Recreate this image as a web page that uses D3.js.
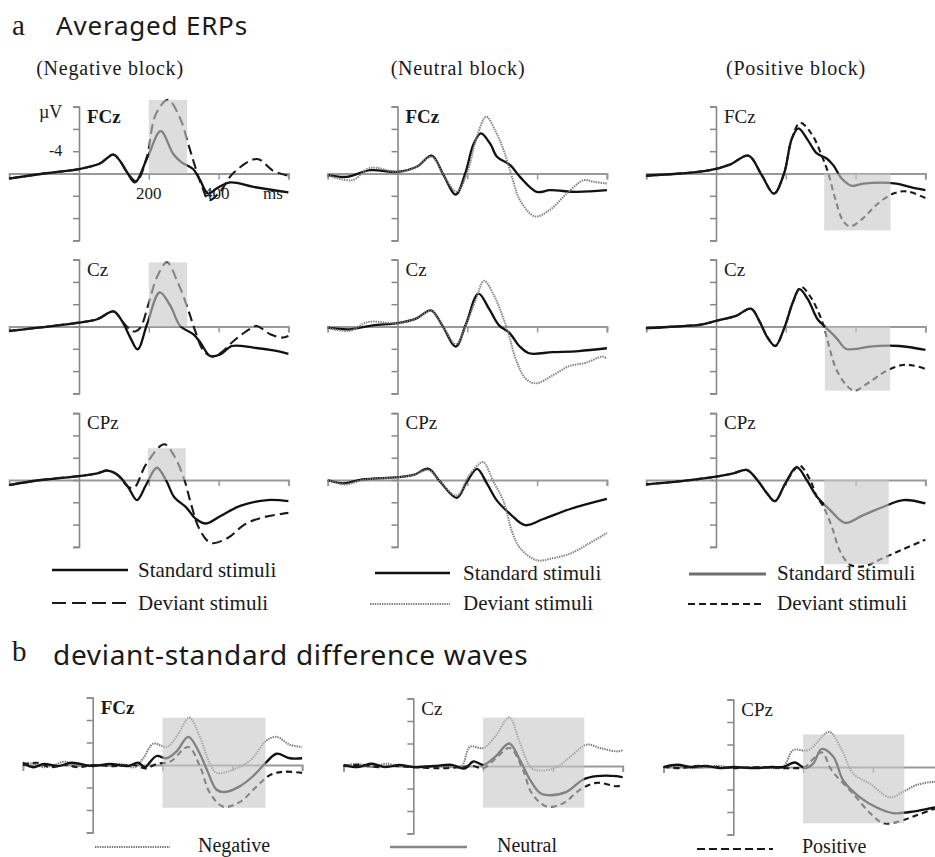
<!DOCTYPE html>
<html lang="en">
<head>
<meta charset="UTF-8">
<title>Averaged ERPs</title>
<script src="https://cdnjs.cloudflare.com/ajax/libs/d3/7.8.5/d3.min.js"></script>
<style>
    body{ margin:0; background:#fff; }
    svg text{ font-family:"Liberation Serif","Times New Roman",serif; fill:#1a1a1a; }
    .head{ font-family:"Noto Sans",sans-serif; }
</style>
</head>
<body>
<div id="grafico"></div>
<script>
// time in ms, amplitude in µV (negative plotted upward)
var blocks = ["(Negative block)", "(Neutral block)", "(Positive block)"];
var channels = ["FCz", "Cz", "CPz"];
var diffNames = ["Negative", "Neutral", "Positive"];

// ---- a: averaged ERPs ----
var negFCzStd = [[-200,0.9],[-100,0],[0,-0.8],[60,-1.8],[98,-3.4],[117,-2.3],[140,0],[160,1.6],[197,-3.0],[234,-7.6],[270,-3.5],[294,-2.0],[327,-0.8],[347,1.2],[370,3.6],[394,2.7],[433,1.6],[500,2.4],[600,3.4]];
var negFCzDev = [[-200,0.9],[-100,0],[0,-0.8],[60,-1.8],[98,-3.4],[117,-2.3],[140,0],[165,1.4],[194,-2.9],[220,-10.6],[255,-13.2],[289,-10],[313,-5.3],[332,-1.4],[351,2.1],[373,4.8],[404,3.3],[441,0],[510,-2.6],[556,-0.5],[600,0.4]];
var neuFCzStd = [[-200,0.3],[-145,0.6],[-78,-0.6],[0,-0.3],[55,-1.2],[98,-3.2],[132,0.3],[167,3.8],[194,0],[218,-5.3],[239,-7.2],[266,-5.3],[285,-3.0],[323,-1.5],[351,0.6],[399,3.3],[437,3.0],[514,3.3],[600,3.0]];
var neuFCzDev = [[-200,0.3],[-130,1.2],[-78,-1.0],[0,-0.3],[55,-1.2],[98,-3.0],[132,0.3],[170,3.3],[199,0],[227,-6.5],[254,-10.2],[280,-7.7],[304,-4.2],[328,0.6],[351,4.8],[394,7.7],[437,6.5],[485,3.6],[533,1.2],[562,1.5],[600,1.8]];
var posFCzStd = [[-200,0.4],[-103,0],[-17,-0.6],[40,-1.6],[93,-3.2],[131,0.3],[166,3.6],[195,0],[217,-6.2],[236,-8.1],[264,-5.9],[289,-3.6],[317,-2.7],[336,-1.5],[360,0.9],[389,2.2],[422,1.8],[517,1.8],[555,2.4],[600,3.0]];
var posFCzDev = [[-200,0.4],[-103,0],[-17,-0.6],[40,-1.6],[93,-3.2],[131,0.3],[166,3.6],[195,0],[217,-6.2],[241,-9.1],[274,-7.1],[303,-3.2],[322,0],[341,4.4],[365,8.6],[384,9.5],[422,8.0],[460,5.6],[508,3.6],[546,3.2],[600,4.4]];

var negCzStd = [[-200,0.8],[0,-0.7],[52,-1.3],[99,-2.7],[123,-1.0],[147,2.0],[168,4.1],[195,-0.4],[231,-6.1],[262,-3.7],[290,-0.1],[328,1.4],[348,2.9],[376,5.3],[405,5.0],[438,3.5],[500,3.8],[557,4.3],[600,4.9]];
var negCzDev = [[-200,0.8],[0,-0.7],[52,-1.3],[99,-2.7],[123,-1.0],[147,0.6],[161,0.9],[176,0.2],[199,-4.0],[223,-8.8],[252,-11.5],[281,-8.2],[309,-3.7],[333,0.8],[357,4.4],[381,5.4],[405,4.8],[443,2.6],[481,0.8],[508,-0.1],[548,1.4],[581,2.0],[600,1.7]];
var neuCzStd = [[-200,0.2],[-138,0.5],[-71,-0.2],[0,-0.6],[53,-1.4],[96,-2.9],[129,-0.1],[167,3.6],[196,-0.4],[232,-5.9],[263,-3.1],[291,-0.2],[320,1.1],[349,3.5],[377,4.8],[444,4.6],[519,4.4],[600,3.9]];
var neuCzDev = [[-200,0.2],[-138,0.8],[-85,-0.8],[0,-0.6],[53,-1.4],[96,-2.8],[129,-0.1],[168,3.2],[197,-0.4],[225,-4.9],[248,-8.2],[277,-5.5],[301,-1.9],[320,1.7],[339,5.9],[368,9.4],[397,10.2],[444,8.8],[492,7.1],[540,6.5],[588,5.4],[600,5.8]];
var posCzStd = [[-200,0.3],[-114,0],[-38,-0.4],[0,-1.0],[57,-1.9],[100,-3.2],[124,-1.0],[148,2.0],[170,3.5],[196,0.2],[220,-4.3],[239,-6.7],[263,-4.9],[291,-1.3],[315,0.2],[344,2.0],[372,4.0],[401,4.0],[440,3.6],[525,3.5],[600,4.2]];
var posCzDev = [[-200,0.3],[-114,0],[-38,-0.4],[0,-1.0],[57,-1.9],[100,-3.2],[124,-1.0],[148,2.0],[170,3.5],[196,0.2],[220,-4.3],[244,-7.1],[272,-5.2],[296,-2.2],[310,0.2],[325,3.8],[344,7.6],[372,10.4],[396,11.5],[439,10.0],[487,8.0],[535,6.9],[565,7.0],[600,7.6]];

var negCPzStd = [[-200,0.9],[-109,0],[0,-0.7],[53,-1.2],[82,-1.7],[111,-0.9],[140,1.2],[166,3.6],[192,0.9],[223,-2.2],[249,0],[273,3.1],[307,4.9],[335,7.0],[364,7.8],[407,6.4],[464,4.6],[540,3.6],[600,3.8]];
var negCPzDev = [[-200,0.9],[-109,0],[0,-0.7],[53,-1.2],[82,-1.7],[111,-0.9],[140,1.2],[158,1.4],[192,-2.8],[244,-6.4],[273,-4.3],[302,0],[321,4.3],[345,8.8],[378,11.3],[426,10.4],[474,8.0],[521,6.8],[600,5.9]];
var neuCPzStd = [[-200,0],[-155,0.6],[-100,-0.1],[0,-0.5],[46,-0.9],[89,-2.0],[122,0.3],[170,3.2],[199,0.3],[228,-2.0],[256,0.6],[285,3.7],[323,6.1],[366,8.1],[418,7.0],[495,5.2],[600,3.4]];
var neuCPzDev = [[-200,0],[-150,0.8],[-100,0],[0,-0.5],[46,-0.9],[89,-1.8],[122,0.3],[170,2.8],[203,-0.6],[232,-2.8],[246,-3.2],[275,0.3],[303,3.7],[328,9.2],[351,12.2],[399,14.4],[447,14.0],[495,13.2],[543,11.6],[600,9.5]];
var posCPzStd = [[-200,0.8],[-100,0.2],[0,-0.6],[50,-1.2],[88,-1.8],[117,-0.1],[145,2.3],[169,3.8],[198,0.7],[231,-2.3],[260,0],[288,2.9],[327,5.4],[370,7.7],[422,6.3],[480,4.8],[537,3.6],[600,4.2]];
var posCPzDev = [[-200,0.8],[-100,0.2],[0,-0.6],[50,-1.2],[88,-1.8],[117,-0.1],[145,2.3],[169,3.8],[198,0.7],[231,-2.3],[241,-2.6],[270,0],[288,2.9],[308,4.8],[332,8.4],[355,12.7],[384,15.2],[422,15.5],[479,14.0],[537,12.4],[600,10.7]];

// analysis windows [start ms, end ms, µV from, µV to]
var windowsA = [
    [[200,310,0,-13.2],[200,310,0,-11.5],[197,306,0,-5.7]],
    [null,null,null],
    [[310,500,0,10.2],[312,499,0,11.5],[310,495,0,15.1]]
];

// ---- b: deviant-standard difference waves ----
var diffFCzNeg = [[-200,-0.2],[-170,-0.1],[-140,0.2],[-110,0],[-80,-0.3],[-40,0.1],[0,0],[40,0.1],[80,-0.1],[120,0.2],[145,-0.6],[174,-1.9],[212,-1.6],[240,-2.5],[277,-4.2],[307,-2.5],[336,-0.1],[355,0.7],[403,0.4],[451,-0.4],[499,-2.2],[527,-2.5],[565,-1.8],[600,-1.6]];
var diffFCzNeu = [[-200,-0.2],[-170,0.2],[-140,-0.1],[-100,0.1],[-60,-0.2],[0,0.1],[50,-0.1],[100,0.1],[130,-0.2],[150,0.2],[160,-0.1],[183,-0.8],[212,-0.6],[240,-1.2],[274,-2.5],[307,-1.0],[327,0.4],[355,2.2],[379,2.4],[421,1.9],[459,1.0],[499,-0.3],[527,-1.0],[565,-0.6],[600,-0.6]];
var diffFCzPos = [[-200,0],[-160,-0.2],[-120,0.2],[-80,0],[-40,0.2],[0,0],[60,0.1],[120,0],[150,0.3],[184,-0.1],[222,-0.3],[274,-1.6],[307,0.1],[336,2.5],[374,3.7],[421,3.3],[470,1.9],[508,0.9],[546,0.6],[600,0.7]];
var diffCzNeg = [[-200,0],[-160,-0.2],[-120,0.1],[-80,-0.2],[-40,0],[0,0.1],[60,0],[110,0.1],[139,0],[162,-1.7],[201,-1.6],[234,-2.6],[275,-4.3],[306,-2.0],[339,0.2],[372,0.4],[411,0.1],[449,-0.8],[497,-1.9],[535,-1.6],[583,-1.3],[600,-1.4]];
var diffCzNeu = [[-200,-0.1],[-160,0.1],[-120,-0.2],[-80,0.1],[-40,-0.1],[0,0.1],[60,0],[110,-0.1],[139,0.2],[150,0.2],[172,-0.4],[201,-0.1],[234,-0.8],[275,-2.0],[306,-0.5],[334,1.2],[363,2.4],[392,2.6],[439,2.3],[487,1.2],[525,0.9],[583,0.9],[600,1.0]];
var diffCzPos = [[-200,0],[-150,-0.1],[-100,0.1],[-50,0],[0,0.1],[80,0.2],[139,0.1],[170,0],[201,0.2],[234,-0.6],[276,-1.6],[315,0.4],[339,2.4],[382,3.6],[430,3.3],[478,2.1],[525,1.5],[583,1.8],[600,1.7]];
var diffCPzNeg = [[-200,0],[-160,-0.1],[-120,0.1],[-80,0],[-40,-0.1],[0,0.1],[60,0],[110,0.1],[143,0],[172,-1.5],[215,-1.5],[275,-3.1],[311,-1.5],[344,0.6],[392,1.5],[449,2.7],[487,2.2],[525,1.6],[578,1.3],[600,1.3]];
var diffCPzNeu = [[-200,0],[-160,-0.2],[-120,0],[-80,-0.1],[-40,0.1],[0,0],[60,0.1],[110,0],[143,0],[177,-0.4],[205,0.1],[229,-0.3],[253,-1.6],[287,-0.9],[315,1.2],[363,2.7],[411,3.6],[458,4.1],[506,4.0],[578,3.6],[600,3.5]];
var diffCPzPos = [[-200,0],[-150,0.1],[-100,-0.1],[-50,0],[0,0.1],[80,0],[143,0.1],[175,0.1],[205,0],[253,-1.3],[282,0.3],[344,2.4],[392,4.1],[430,5.0],[468,4.9],[516,4.4],[578,3.7],[600,3.5]];
var windowsB = [[200,495,-4.2,3.8],[200,490,-4.3,3.7],[200,490,-2.9,5.0]];

// ---- drawing ----
var w = 935, h = 857;
var svg = d3.select("#grafico").append("svg").attr("width", w).attr("height", h);

var estilos = {
    std:    {c:"#111", sw:2.3, dash:null},
    devNeg: {c:"#1a1a1a", sw:2.1, dash:"10,5"},
    devNeu: {c:"#808080", sw:2, dash:"1.4,1"},
    devPos: {c:"#1a1a1a", sw:2.1, dash:"6,4"},
    bNeg:   {c:"#777", sw:2, dash:"1.4,1"},
    bNeu:   {c:"#111", sw:2.3, dash:null},
    bPos:   {c:"#1a1a1a", sw:2.1, dash:"6,4"}
};

function panel(ax, zy, tp, unit, label, bold, series, win){
    var x = d3.scaleLinear().domain([-200, 600]).range([ax - 69.8, ax + 209.4]);
    var y = d3.scaleLinear().domain([-3*unit, 3*unit]).range([zy - 3*tp, zy + 3*tp]);
    var g = svg.append("g");

    // zero line with time ticks
    var xa = g.append("g").attr("transform", "translate(0," + y(0) + ")")
        .call(d3.axisBottom(x).tickValues([200,400,600]).tickSize(6).tickFormat(""));
    xa.select(".domain").attr("stroke", "#999").attr("stroke-width", 2);
    xa.selectAll(".tick line").attr("stroke", "#999").attr("stroke-width", 1.5);

    var ya = g.append("g").attr("transform", "translate(" + x(0) + ",0)")
        .call(d3.axisLeft(y).tickValues(d3.range(-3, 4).map(function(k){ return k*unit; })).tickSize(6).tickFormat(""));
    ya.select(".domain").attr("stroke", "#888").attr("stroke-width", 1.6);
    ya.selectAll(".tick line").attr("stroke", "#888").attr("stroke-width", 1.5);

    var line = d3.line()
        .x(function(d){ return x(d[0]); })
        .y(function(d){ return y(d[1]); })
        .curve(d3.curveCatmullRom.alpha(0.5));

    series.forEach(function(s){
        var e = estilos[s[1]];
        g.append("path").datum(s[0])
            .attr("d", line)
            .attr("fill", "none")
            .attr("stroke", e.c)
            .attr("stroke-width", e.sw)
            .attr("stroke-dasharray", e.dash)
            .attr("stroke-linejoin", "round");
    });

    if (win){
        g.append("rect")
            .attr("x", x(win[0])).attr("width", x(win[1]) - x(win[0]))
            .attr("y", Math.min(y(win[2]), y(win[3])))
            .attr("height", Math.abs(y(win[3]) - y(win[2])))
            .attr("fill", "rgb(200,200,200)").attr("opacity", 0.62);
    }

    g.append("text").attr("x", x(0) + 8).attr("y", zy - 3*tp + 16)
        .attr("font-size", 19).attr("font-weight", bold ? "bold" : "normal")
        .text(label);
    return {x:x, y:y};
}

// part a
var colAxis = [79, 397.5, 716];
var rowZero = [173.5, 326.5, 480];
var dataA = [
    [[[negFCzStd,"std"],[negFCzDev,"devNeg"]], [[negCzStd,"std"],[negCzDev,"devNeg"]], [[negCPzStd,"std"],[negCPzDev,"devNeg"]]],
    [[[neuFCzStd,"std"],[neuFCzDev,"devNeu"]], [[neuCzStd,"std"],[neuCzDev,"devNeu"]], [[neuCPzStd,"std"],[neuCPzDev,"devNeu"]]],
    [[[posFCzStd,"std"],[posFCzDev,"devPos"]], [[posCzStd,"std"],[posCzDev,"devPos"]], [[posCPzStd,"std"],[posCPzDev,"devPos"]]]
];
for (var c = 0; c < 3; c++){
    for (var r = 0; r < 3; r++){
        panel(colAxis[c], rowZero[r], 22.3, 4, channels[r], (r == 0 && c < 2), dataA[c][r], windowsA[c][r]);
    }
}

// part b
var bAxis = [92.7, 413.3, 733.3];
var bZero = [765, 766, 767];
var dataB = [
    [[diffFCzNeg,"bNeg"],[diffFCzNeu,"bNeu"],[diffFCzPos,"bPos"]],
    [[diffCzNeg,"bNeg"],[diffCzNeu,"bNeu"],[diffCzPos,"bPos"]],
    [[diffCPzNeg,"bNeg"],[diffCPzNeu,"bNeu"],[diffCPzPos,"bPos"]]
];
for (var k = 0; k < 3; k++){
    panel(bAxis[k], bZero[k], 22.5, 2, channels[k], k == 0, dataB[k], windowsB[k]);
}

// headings
svg.append("text").attr("x", 12).attr("y", 35).attr("font-size", 29).text("a");
svg.append("text").attr("class", "head").attr("x", 56).attr("y", 35).attr("font-size", 26)
    .attr("letter-spacing", 0.8).text("Averaged ERPs");
svg.append("text").attr("x", 12).attr("y", 661).attr("font-size", 29).text("b");
svg.append("text").attr("class", "head").attr("x", 53).attr("y", 665).attr("font-size", 28)
    .attr("letter-spacing", 0.7).text("deviant-standard difference waves");

var blockX = [110, 458, 796];
blocks.forEach(function(b, i){
    svg.append("text").attr("x", blockX[i]).attr("y", 75).attr("text-anchor", "middle")
        .attr("font-size", 20).attr("letter-spacing", 0.8).text(b);
});

// unit / tick labels on the first panel
svg.append("text").attr("x", 39).attr("y", 118).attr("font-size", 18).text("µV");
svg.append("text").attr("x", 49).attr("y", 156).attr("font-size", 16).text("-4");
svg.append("text").attr("x", 136).attr("y", 199).attr("font-size", 17).attr("fill", "#444").text("200");
svg.append("text").attr("x", 204).attr("y", 199).attr("font-size", 17).attr("fill", "#444").text("400");
svg.append("text").attr("x", 263).attr("y", 199).attr("font-size", 17).text("ms");

// legends
function legendItem(x1, x2, yy, e, dash, tx, ty, fs, label){
    svg.append("line").attr("x1", x1).attr("x2", x2).attr("y1", yy).attr("y2", yy)
        .attr("stroke", e.c).attr("stroke-width", e.sw).attr("stroke-dasharray", dash);
    svg.append("text").attr("x", tx).attr("y", ty).attr("font-size", fs).text(label);
}
legendItem(52, 128, 570, estilos.std, null, 138, 577, 21, "Standard stimuli");
legendItem(52, 128, 603, estilos.devNeg, "14,6", 138, 610, 21, "Deviant stimuli");
legendItem(375, 450, 573, estilos.std, null, 463, 580, 21, "Standard stimuli");
legendItem(370, 450, 604, estilos.devNeu, estilos.devNeu.dash, 463, 610, 21, "Deviant stimuli");
legendItem(689, 766, 574, {c:"#6e6e6e", sw:3}, null, 777, 580, 21, "Standard stimuli");
legendItem(688, 762, 604, estilos.devPos, "7,4", 777, 610, 21, "Deviant stimuli");

legendItem(95, 170, 847, estilos.bNeg, estilos.bNeg.dash, 198, 852, 20, diffNames[0]);
legendItem(390, 467, 847, {c:"#888", sw:2.5}, null, 497, 852, 20, diffNames[1]);
legendItem(697, 773, 849, estilos.bPos, "8,4", 802, 853, 20, diffNames[2]);
</script>
</body>
</html>
